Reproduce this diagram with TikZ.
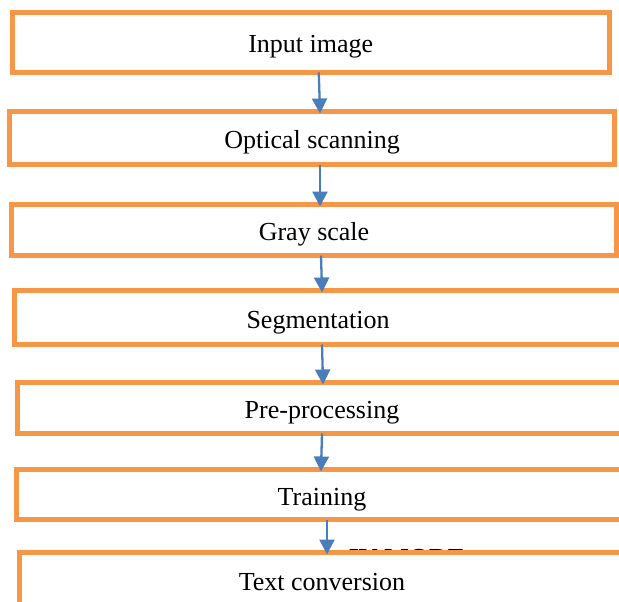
\documentclass[tikz,border=0pt]{standalone}
\usepackage{fontspec}
\setmainfont{Liberation Serif}
\usetikzlibrary{arrows.meta}
\definecolor{boxorange}{RGB}{247,150,70}
\definecolor{flowblue}{RGB}{74,126,187}
\tikzset{
  stage/.style={draw=boxorange,line width=5pt,fill=white,outer sep=0pt,inner sep=0pt,
    text height=21pt,text depth=0pt,font=\fontsize{26}{30}\selectfont},
  flow/.style={draw=flowblue,line width=2.3pt,-{Triangle[length=15pt,width=15pt]},shorten >=-2pt}
}
\begin{document}
\begin{tikzpicture}
	\begin{scope}[x=1pt,y=-1pt]
	\useasboundingbox (0,0) rectangle (619,602);
	\clip (0,0) rectangle (619,602);
	\node[font=\fontsize{26}{30}\selectfont\bfseries,anchor=base] (mode) at (407,566) {IV MODE};
	\node[stage,minimum width=597.5pt,minimum height=60pt] (input) at (310.75,42.5) {Input image};
	\node[stage,minimum width=605pt,minimum height=53pt] (scan) at (312,138) {Optical scanning};
	\node[stage,minimum width=605pt,minimum height=51pt] (gray) at (314,230) {Gray scale};
	\node[stage,minimum width=607pt,minimum height=54pt] (seg) at (318,317.5) {Segmentation};
	\node[stage,minimum width=609pt,minimum height=51pt] (pre) at (322,408) {Pre-processing};
	\node[stage,minimum width=611pt,minimum height=50pt] (train) at (322,494.5) {Training};
	\node[stage,minimum width=605pt,minimum height=55pt] (text) at (322,580) {Text conversion};
	\foreach\a/\b/\s/\t in{input/scan/8/8,scan/gray/8/6,gray/seg/7/4,seg/pre/4/1,pre/train/0/-1,train/text/5/5}
	{\draw[flow] ([xshift=\s pt]\a.south) -- ([xshift=\t pt]\b.north);}
    \end{scope}
\end{tikzpicture}
\end{document}
